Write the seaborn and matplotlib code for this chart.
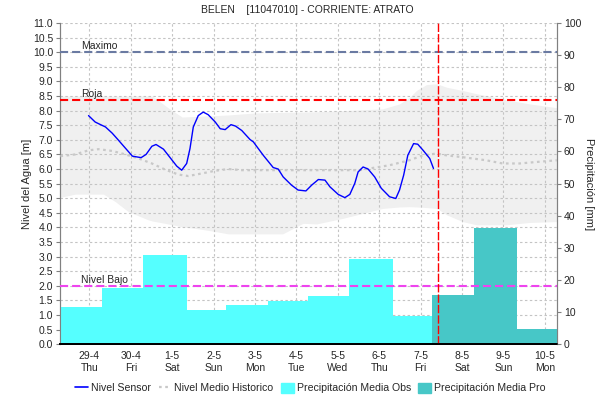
import numpy as np
import pandas as pd
import matplotlib
matplotlib.use('Agg')
import matplotlib.pyplot as plt
import seaborn as sns
from matplotlib.lines import Line2D
from matplotlib.patches import Patch

# days counted from 29-4 00:00
day_labels = ['29-4\nThu', '30-4\nFri', '1-5\nSat', '2-5\nSun', '3-5\nMon', '4-5\nTue',
              '5-5\nWed', '6-5\nThu', '7-5\nFri', '8-5\nSat', '9-5\nSun', '10-5\nMon']

sensor_day = [-0.02, 0.14, 0.27, 0.39, 0.55, 0.67, 0.83, 1.04, 1.25, 1.37, 1.51, 1.61, 1.79, 1.95,
              2.11, 2.23, 2.35, 2.43, 2.51, 2.63, 2.75, 2.87, 3.04, 3.16, 3.28, 3.42, 3.53, 3.68,
              3.88, 3.96, 4.20, 4.44, 4.56, 4.68, 4.88, 5.04, 5.23, 5.37, 5.53, 5.69, 5.81, 6.01,
              6.17, 6.29, 6.41, 6.49, 6.61, 6.73, 6.89, 7.05, 7.25, 7.40, 7.49, 7.59, 7.69, 7.83,
              7.93, 8.06, 8.22, 8.31]
sensor_m = [7.83, 7.61, 7.52, 7.44, 7.23, 7.04, 6.78, 6.44, 6.39, 6.50, 6.78, 6.84, 6.68, 6.39,
            6.10, 5.96, 6.19, 6.70, 7.44, 7.83, 7.95, 7.86, 7.61, 7.38, 7.35, 7.52, 7.47, 7.32,
            7.01, 6.93, 6.47, 6.05, 6.00, 5.73, 5.45, 5.28, 5.25, 5.45, 5.64, 5.62, 5.39, 5.13,
            5.02, 5.13, 5.51, 5.90, 6.07, 6.00, 5.73, 5.34, 5.05, 4.99, 5.28, 5.79, 6.47, 6.87,
            6.85, 6.64, 6.36, 6.02]

mean_day = [-0.70, -0.34, -0.02, 0.22, 0.55, 0.87, 1.19, 1.51, 1.83, 2.15, 2.39, 2.72, 3.04, 3.36,
            3.68, 4.0, 5.0, 6.0, 6.53, 6.77, 7.25, 7.73, 8.06, 8.38, 8.62, 9.10, 9.58, 9.98,
            10.39, 10.79, 11.29]
mean_m = [6.44, 6.50, 6.64, 6.68, 6.62, 6.50, 6.36, 6.19, 5.98, 5.81, 5.76, 5.85, 5.94, 6.00,
          5.96, 5.96, 5.96, 5.96, 5.96, 6.02, 6.13, 6.30, 6.47, 6.53, 6.47, 6.39, 6.30, 6.19,
          6.19, 6.24, 6.30]

band_day = [-0.70, -0.34, 0.34, 0.63, 0.94, 1.42, 1.52, 1.90, 2.24, 2.55, 3.04, 3.35, 4.0, 4.67,
            5.16, 5.49, 6.12, 6.60, 7.08, 7.49, 7.73, 7.90, 8.14, 8.39, 8.63, 9.01, 9.35, 9.59,
            10.07, 10.63, 11.29]
band_hi = [8.5, 8.5, 8.5, 8.5, 8.5, 8.5, 8.5, 8.1, 7.78, 7.8, 7.83, 7.85, 7.92, 7.94, 7.95, 7.96,
           8.0, 8.03, 8.06, 8.23, 8.45, 8.69, 8.89, 8.92, 8.8, 8.69, 8.58, 8.51, 8.37, 8.23, 8.10]
band_lo = [5.03, 5.14, 5.14, 4.88, 4.54, 4.26, 4.22, 4.12, 4.02, 3.97, 3.86, 3.78, 3.78, 3.78,
           4.14, 4.12, 4.31, 4.48, 4.65, 4.70, 4.71, 4.70, 4.68, 4.65, 4.43, 4.20, 4.09, 4.09,
           4.09, 4.17, 4.20]

precip_edges = [-1.69, -0.68, 0.31, 1.30, 2.36, 3.30, 4.31, 5.29, 6.28, 7.34, 8.28, 9.29, 10.33, 11.33]
precip_obs = [20.2, 11.7, 17.6, 27.9, 10.7, 12.3, 13.3, 15.0, 26.4, 8.9]
precip_pro = [15.3, 36.3, 4.6]

nivel_maximo = 10.0
nivel_roja = 8.38
nivel_bajo = 2.0
ahora = 8.41

sns.set_style('white')
plt.rcParams['font.family'] = ['Liberation Sans', 'DejaVu Sans']

fig = plt.figure(figsize=(6.15, 4.04), dpi=100)
ax = fig.add_axes([0.0976, 0.148, 0.808, 0.795])
ax2 = ax.twinx()
ax3 = ax.twinx()

xmin, xmax = -17 / 24, 11 + 7 / 24

# historic range and grid (bottom layer)
ax.fill_between(band_day, band_lo, band_hi, color='#f0f0f0', lw=0, zorder=0)
ax.set_xlim(xmin, xmax)
ax.set_ylim(0, 11)
ax.set_yticks(np.arange(0, 11.01, 0.5))
ax.set_yticklabels([f'{v:.1f}' for v in np.arange(0, 11.01, 0.5)])
ax.set_xticks(range(12))
ax.set_xticklabels(day_labels)
ax.grid(True, color='#c4c4c4', linestyle=(0, (2.2, 2.2)), lw=0.8)
ax.set_axisbelow(True)
ax.tick_params(axis='y', labelsize=7.5, length=3, color='#808080', pad=2, left=True)
ax.tick_params(axis='x', labelsize=7.5, length=0, pad=5)
ax.set_ylabel('Nivel del Agua [m]', fontsize=8, labelpad=0.5)

# precipitation bars
df_p = pd.DataFrame({'left': precip_edges[:-1], 'right': precip_edges[1:],
                     'mm': precip_obs + precip_pro,
                     'tipo': ['obs'] * len(precip_obs) + ['pro'] * len(precip_pro)})
colors = {'obs': '#55ffff', 'pro': '#47c7c7'}
ax2.bar(df_p['left'], df_p['mm'], width=df_p['right'] - df_p['left'], align='edge',
        color=[colors[t] for t in df_p['tipo']], lw=0, zorder=2)
ax2.set_ylim(0, 100)
ax2.set_yticks(range(0, 101, 10))
ax2.tick_params(axis='y', labelsize=7.5, length=3, color='#808080', pad=2, right=True)
ax2.set_ylabel('Precipitación [mm]', fontsize=8, rotation=270, labelpad=9)
ax2.set_xlim(xmin, xmax)

# level lines on top
ax3.set_ylim(0, 11)
ax3.set_xlim(xmin, xmax)
ax3.set_yticks([])
sns.lineplot(x=mean_day, y=mean_m, ax=ax3, color='#c8c8c8', lw=1.6, linestyle=(0, (1.2, 1.6)))
sns.lineplot(x=sensor_day, y=sensor_m, ax=ax3, color='#0000ff', lw=1.0)
dash = (0, (3.9, 1.9))
ax3.axhline(nivel_maximo, color='#6a7aa2', lw=1.5, linestyle=dash)
ax3.axhline(nivel_roja, color='#ff0000', lw=1.5, linestyle=dash)
ax3.axhline(nivel_bajo, color='#ee44ee', lw=1.5, linestyle=dash)
ax3.axvline(ahora, color='#ff0000', lw=1.0, linestyle=(0, (6, 1.5)))
for y, txt in [(nivel_maximo, 'Maximo'), (nivel_roja, 'Roja'), (nivel_bajo, 'Nivel Bajo')]:
    ax3.annotate(txt, (-0.19, y), xytext=(0, 2), textcoords='offset points', fontsize=7.5)

for a in (ax, ax2, ax3):
    a.spines['top'].set_visible(False)
    a.spines['left'].set_color('#808080')
    a.spines['right'].set_color('#808080')
    a.spines['bottom'].set_color('#000000')
    a.spines['bottom'].set_linestyle((0, (1, 1)))
    a.spines['bottom'].set_linewidth(1.3)
ax3.spines['left'].set_visible(False)
ax3.spines['right'].set_visible(False)

fig.suptitle('BELEN    [11047010] - CORRIENTE: ATRATO', fontsize=7.5, y=0.988)

handles = [Line2D([], [], color='#0000ff', lw=1.2),
           Line2D([], [], color='#c8c8c8', lw=1.6, linestyle=(0, (1.2, 1.6))),
           Patch(color='#55ffff'), Patch(color='#47c7c7')]
labels = ['Nivel Sensor', 'Nivel Medio Historico', 'Precipitación Media Obs', 'Precipitación Media Pro']
fig.legend(handles, labels, loc='center', bbox_to_anchor=(0.505, 0.04), ncol=4, frameon=False,
           fontsize=7.6, handlelength=1.2, handletextpad=0.3, columnspacing=0.7,
           handleheight=1.1)

fig.savefig('out.png', dpi=100)
